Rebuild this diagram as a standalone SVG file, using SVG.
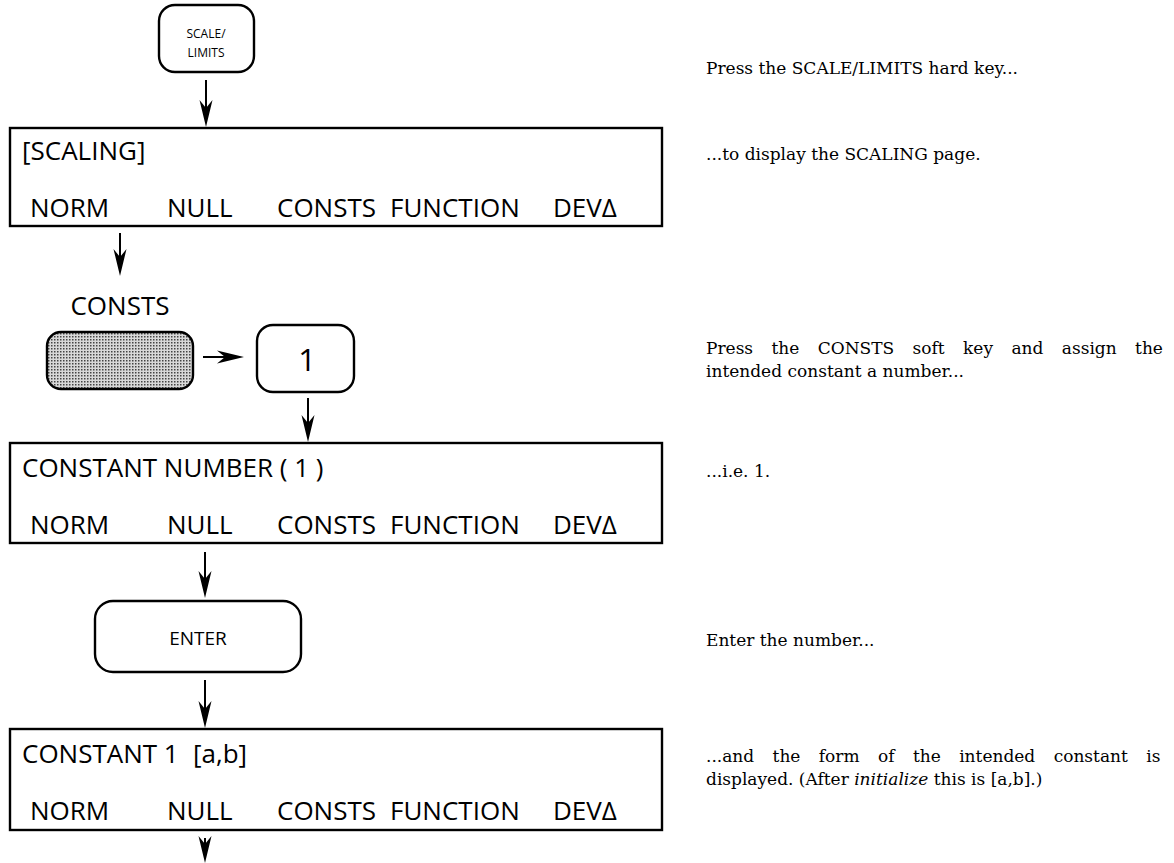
<svg xmlns="http://www.w3.org/2000/svg" width="1174" height="863" viewBox="0 0 1174 863">
<style>
.bg{fill:#fff}
.box{fill:none;stroke:#000;stroke-width:2.4}
.key{fill:#fff;stroke:#000;stroke-width:2.4}
.lcd{font-family:"Open Sans","DejaVu Sans",sans-serif;font-size:26px;font-weight:500;fill:#000}
.keyt{font-family:"Open Sans","DejaVu Sans",sans-serif;font-weight:500;fill:#000;text-anchor:middle}
.note{font-family:"DejaVu Serif","Liberation Serif",serif;font-size:17px;fill:#000}
.conn{stroke:#000;stroke-width:2;fill:none}
</style>
<defs>
<marker id="ah" markerUnits="userSpaceOnUse" viewBox="0 0 30 16" markerWidth="30" markerHeight="16" refX="18" refY="8" orient="auto">
<path d="M30,8 L3,1.5 L11,8 L3,14.5 Z" fill="#000"/>
</marker>
<pattern id="dots" width="3" height="3" patternUnits="userSpaceOnUse">
<rect width="3" height="3" fill="#d8d8d8"/>
<rect width="1.5" height="1.5" fill="#444"/>
</pattern>
</defs>
<rect class="bg" width="1174" height="863"/>

<g id="key-scale-limits">
<rect class="key" x="159" y="5" width="95" height="67" rx="16"/>
<text class="keyt" x="206" y="38" font-size="12">SCALE/</text>
<text class="keyt" x="206" y="57" font-size="12">LIMITS</text>
</g>

<g id="page-scaling">
<rect class="box" x="10" y="128" width="652" height="98"/>
<text class="lcd" x="22" y="160">[SCALING]</text>
<text class="lcd" x="30" y="217">NORM</text>
<text class="lcd" x="167" y="217">NULL</text>
<text class="lcd" x="277" y="217">CONSTS</text>
<text class="lcd" x="390" y="217">FUNCTION</text>
<text class="lcd" x="553" y="217">DEVΔ</text>
</g>

<g id="softkey-consts">
<text class="lcd" x="120" y="315" font-size="30" text-anchor="middle">CONSTS</text>
<rect x="47" y="332" width="146" height="57" rx="14" fill="url(#dots)" stroke="#000" stroke-width="2.4"/>
</g>

<g id="key-1">
<rect class="key" x="257" y="325" width="97" height="67" rx="16"/>
<text class="keyt" x="307" y="371" font-size="31">1</text>
</g>

<g id="page-constant-number">
<rect class="box" x="10" y="443" width="652" height="100"/>
<text class="lcd" x="22" y="477">CONSTANT NUMBER ( 1 )</text>
<text class="lcd" x="30" y="534">NORM</text>
<text class="lcd" x="167" y="534">NULL</text>
<text class="lcd" x="277" y="534">CONSTS</text>
<text class="lcd" x="390" y="534">FUNCTION</text>
<text class="lcd" x="553" y="534">DEVΔ</text>
</g>

<g id="key-enter">
<rect class="key" x="95" y="601" width="206" height="71" rx="18"/>
<text class="keyt" x="198" y="645" font-size="19">ENTER</text>
</g>

<g id="page-constant-1">
<rect class="box" x="10" y="729" width="652" height="101"/>
<text class="lcd" x="22" y="763">CONSTANT 1</text>
<text class="lcd" x="193" y="763">[a,b]</text>
<text class="lcd" x="30" y="820">NORM</text>
<text class="lcd" x="167" y="820">NULL</text>
<text class="lcd" x="277" y="820">CONSTS</text>
<text class="lcd" x="390" y="820">FUNCTION</text>
<text class="lcd" x="553" y="820">DEVΔ</text>
</g>

<g id="connectors">
<line class="conn" x1="206" y1="80" x2="206" y2="115" marker-end="url(#ah)"/>
<line class="conn" x1="120" y1="233" x2="120" y2="264" marker-end="url(#ah)"/>
<line class="conn" x1="203" y1="357" x2="232" y2="357" marker-end="url(#ah)"/>
<line class="conn" x1="308" y1="398" x2="308" y2="430" marker-end="url(#ah)"/>
<line class="conn" x1="205" y1="552" x2="205" y2="586" marker-end="url(#ah)"/>
<line class="conn" x1="205" y1="680" x2="205" y2="716" marker-end="url(#ah)"/>
<line class="conn" x1="205" y1="838" x2="205" y2="851" marker-end="url(#ah)"/>
</g>

<g id="notes">
<text class="note" x="706" y="74">Press the SCALE/LIMITS hard key...</text>
<text class="note" x="706" y="160">...to display the SCALING page.</text>
<text class="note" x="706" y="354" word-spacing="13">Press the CONSTS soft key and assign the</text>
<text class="note" x="706" y="377">intended constant a number...</text>
<text class="note" x="706" y="477">...i.e. 1.</text>
<text class="note" x="706" y="646">Enter the number...</text>
<text class="note" x="706" y="762" word-spacing="13">...and the form of the intended constant is</text>
<text class="note" x="706" y="785">displayed. (After <tspan font-style="italic">initialize</tspan> this is [a,b].)</text>
</g>
</svg>
